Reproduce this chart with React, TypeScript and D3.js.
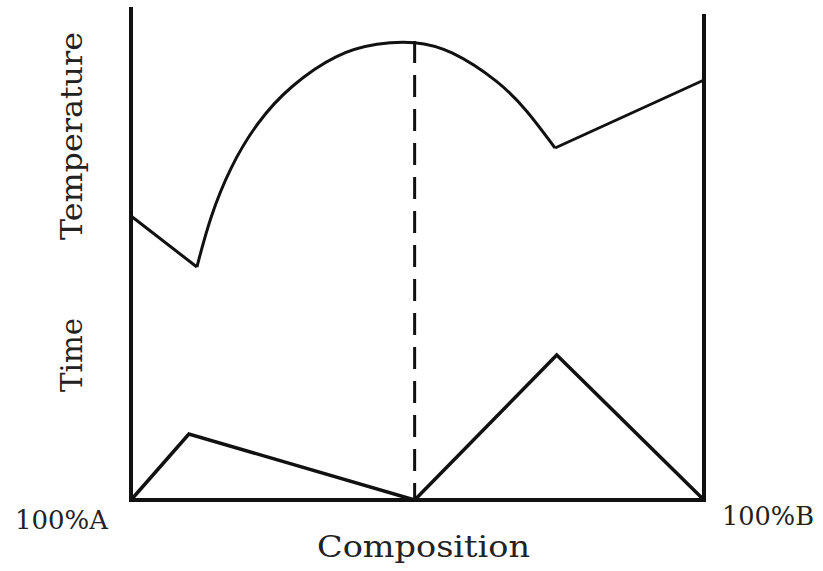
import React from "react";
import * as d3 from "d3";

// Composition (% B) and temperature (arbitrary units) of the liquidus
const leftBranchComp = [0, 11.5];
const leftBranchTemp = [284, 233];
const arcComp = [11.5, 13.8, 17.3, 22.0, 27.7, 36.0, 43.0, 49.5, 55.7, 64.4, 69.1, 74.0];
const arcTemp = [233, 283, 333, 378, 414, 447, 457, 459, 451, 418, 390, 352];
const rightBranchComp = [74.0, 100];
const rightBranchTemp = [352, 420];

// Time of eutectic halt vs composition
const timeComp = [0, 10.1, 49.5, 74.3, 100];
const timeValue = [0, 66, 0, 145, 0];

// Congruent melting composition (dashed line)
const compoundComp = 49.5;
const compoundTemp = 459;

const W = 823;
const H = 571;

export default function App() {
  const x = d3.scaleLinear().domain([0, 100]).range([131, 704]);
  const y = d3.scaleLinear().domain([0, 490]).range([500, 10]);

  const straight = d3
    .line<[number, number]>()
    .x((d) => x(d[0]))
    .y((d) => y(d[1]))
    .curve(d3.curveLinear);
  const smooth = d3
    .line<[number, number]>()
    .x((d) => x(d[0]))
    .y((d) => y(d[1]))
    .curve(d3.curveBasis);

  const zip = (a: number[], b: number[]) => a.map((v, i) => [v, b[i]] as [number, number]);

  const font = "'DejaVu Serif', serif";
  const ink = "#111";

  return (
    <svg
      width={W}
      height={H}
      style={{ position: "fixed", left: 0, top: 0, background: "#fff" }}
    >
      <rect x={0} y={0} width={W} height={H} fill="#fff" />
      {/* axes */}
      <line x1={x(0)} y1={7} x2={x(0)} y2={y(0)} stroke={ink} strokeWidth={4} />
      <line x1={x(100)} y1={14} x2={x(100)} y2={y(0)} stroke={ink} strokeWidth={4} />
      <line x1={x(0) - 2} y1={y(0)} x2={x(100) + 2} y2={y(0)} stroke={ink} strokeWidth={4} />

      {/* liquidus */}
      <path d={straight(zip(leftBranchComp, leftBranchTemp)) || ""} fill="none" stroke={ink} strokeWidth={3} />
      <path d={smooth(zip(arcComp, arcTemp)) || ""} fill="none" stroke={ink} strokeWidth={3} />
      <path d={straight(zip(rightBranchComp, rightBranchTemp)) || ""} fill="none" stroke={ink} strokeWidth={3} />

      {/* dashed line */}
      <line
        x1={x(compoundComp)}
        y1={y(compoundTemp)}
        x2={x(compoundComp)}
        y2={y(0)}
        stroke={ink}
        strokeWidth={3}
        strokeDasharray="22 12"
      />

      {/* time curve */}
      <path d={straight(zip(timeComp, timeValue)) || ""} fill="none" stroke={ink} strokeWidth={3.5} />

      {/* labels */}
      <g fontFamily={font} fill="#222" fontSize={29}>
        <text x={15} y={529} fontSize={26} textLength={93} lengthAdjust="spacingAndGlyphs">100%A</text>
        <text x={722} y={525} fontSize={26} textLength={92} lengthAdjust="spacingAndGlyphs">100%B</text>
        <text x={317} y={557} textLength={213} lengthAdjust="spacingAndGlyphs">Composition</text>
        <text transform="translate(82,240) rotate(-90)" textLength={208} lengthAdjust="spacingAndGlyphs">Temperature</text>
        <text transform="translate(82,392) rotate(-90)" textLength={74} lengthAdjust="spacingAndGlyphs">Time</text>
      </g>
    </svg>
  );
}
